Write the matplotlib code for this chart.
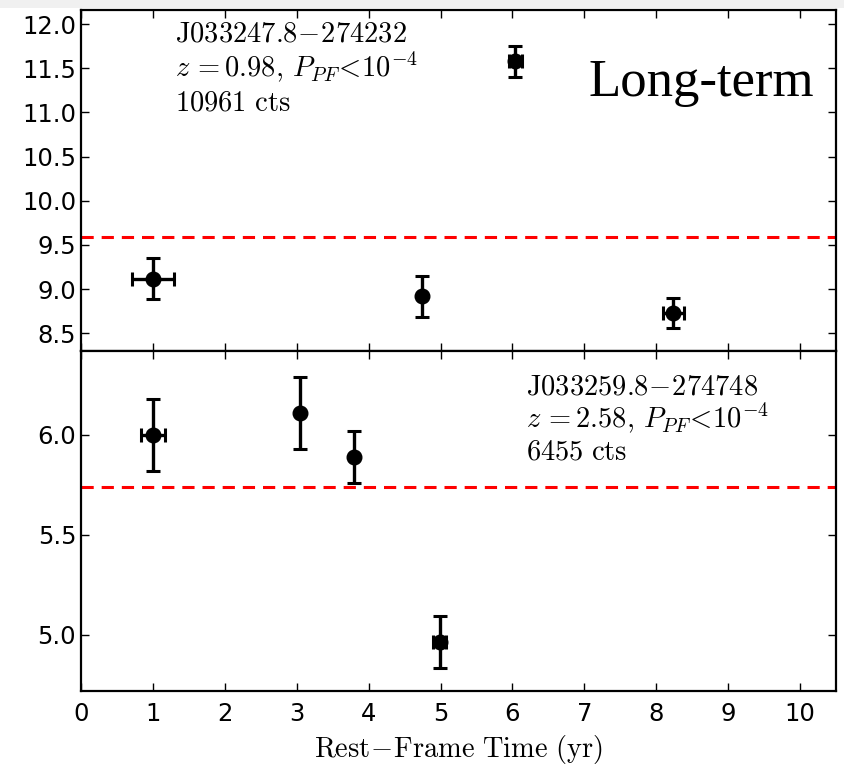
import matplotlib
matplotlib.use("Agg")
import matplotlib.pyplot as plt
from matplotlib.patches import Rectangle

plt.rcParams['mathtext.fontset'] = 'cm'
plt.rcParams['font.family'] = 'DejaVu Sans'

# top source: J033247.8-274232
t1 = [1.0, 4.74, 6.04, 8.24]
f1 = [9.12, 8.92, 11.58, 8.73]
f1_err = [0.23, 0.23, 0.175, 0.17]
t1_err = [0.29, 0.0, 0.09, 0.15]
mean1 = 9.59

# bottom source: J033259.8-274748
t2 = [1.0, 3.05, 3.8, 4.99]
f2 = [6.0, 6.11, 5.89, 4.965]
f2_err = [0.18, 0.18, 0.13, 0.13]
t2_err = [0.17, 0.0, 0.0, 0.09]
mean2 = 5.74

xticks = list(range(0, 11))
yticks1 = [8.5, 9.0, 9.5, 10.0, 10.5, 11.0, 11.5, 12.0]
yticks2 = [5.0, 5.5, 6.0]

fig = plt.figure(figsize=(8.44, 7.65), dpi=100)
fig.patches.append(Rectangle((0, 757/765), 1, 8/765, transform=fig.transFigure,
                             facecolor='#f0f0f0', edgecolor='none', zorder=0))

left = 81/844
width = 836/844 - left
ax1 = fig.add_axes([left, 1 - 351/765, width, (351 - 10)/765])
ax2 = fig.add_axes([left, 1 - 691/765, width, (691 - 351)/765], sharex=ax1)

ebkw = dict(fmt='o', color='black', ms=10.5, elinewidth=2.4, capsize=5, capthick=2.2)

ax1.errorbar(t1, f1, yerr=f1_err, xerr=t1_err, **ebkw)
ax1.axhline(mean1, color='red', ls=(0, (4, 2.6)), lw=2.2)
ax2.errorbar(t2, f2, yerr=f2_err, xerr=t2_err, **ebkw)
ax2.axhline(mean2, color='red', ls=(0, (4, 2.6)), lw=2.2)

ax1.set_xlim(0, 10.5)
ax1.set_ylim(8.3, 12.16)
ax2.set_ylim(4.72, 6.42)
ax1.set_yticks(yticks1)
ax2.set_yticks(yticks2)
ax2.set_xticks(xticks)

for ax in (ax1, ax2):
    ax.tick_params(direction='in', top=True, right=True, length=6, width=1,
                   labelsize=17.5)
    for s in ax.spines.values():
        s.set_linewidth(1.6)
ax2.tick_params(axis='x', pad=8)
ax1.tick_params(labelbottom=False)

ax2.set_xlabel(r'$\mathrm{Rest\!-\!Frame\ Time\ (yr)}$', fontsize=20.5, labelpad=5)

ax1.text(0.125, 0.93, r'$\mathrm{J033247.8\!-\!274232}$', transform=ax1.transAxes,
         fontsize=20.5, va='center')
ax1.text(0.125, 0.83, r'$z\,{=}0.98,\, P_{PF}\!<\!10^{-4}$', transform=ax1.transAxes,
         fontsize=20.5, va='center')
ax1.text(0.125, 0.73, r'$\mathrm{10961\ cts}$', transform=ax1.transAxes,
         fontsize=20.5, va='center')
ax1.text(0.672, 0.785, 'Long-term', transform=ax1.transAxes,
         fontsize=38, va='center', family='Liberation Serif')

ax2.text(0.59, 0.895, r'$\mathrm{J033259.8\!-\!274748}$', transform=ax2.transAxes,
         fontsize=20.5, va='center')
ax2.text(0.59, 0.8, r'$z\,{=}2.58,\, P_{PF}\!<\!10^{-4}$', transform=ax2.transAxes,
         fontsize=20.5, va='center')
ax2.text(0.59, 0.705, r'$\mathrm{6455\ cts}$', transform=ax2.transAxes,
         fontsize=20.5, va='center')

fig.savefig('out.png', dpi=100)
